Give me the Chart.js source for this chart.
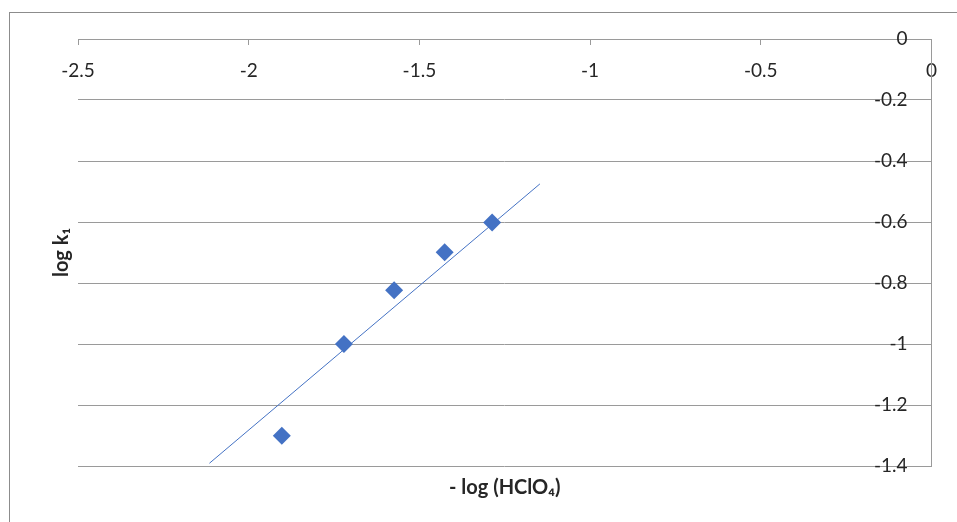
<!DOCTYPE html>
<html>
<head>
<meta charset="utf-8">
<script src="https://cdn.jsdelivr.net/npm/chart.js@4/dist/chart.umd.min.js"></script>
<style>
html, body { margin: 0; padding: 0; background: #fff; }
</style>
</head>
<body>
<canvas id="myChart" width="957" height="522"></canvas>
<script>
var xTitle = '- log (HClO\u2084)';
var yTitle = 'log k\u2081';

// measured points
var logAcid = [-1.903, -1.721, -1.574, -1.426, -1.287];
var logK = [-1.301, -1.0, -0.824, -0.699, -0.602];

// trend line end points as drawn
var trendX = [-2.115, -1.147];
var trendY = [-1.391, -0.475];

var xTicks = [-2.5, -2, -1.5, -1, -0.5, 0];
var yTicks = [0, -0.2, -0.4, -0.6, -0.8, -1, -1.2, -1.4];

var gridColor = '#9a9a9a';
var textColor = '#262626';
var blue = '#4472C4';

var pts = logAcid.map(function (x, i) { return {x: x, y: logK[i]}; });
var trend = trendX.map(function (x, i) { return {x: x, y: trendY[i]}; });

// outer frame of the chart box
var frame = {
    id: 'frame',
    beforeDraw: function (chart) {
        var c = chart.ctx;
        c.save();
        c.strokeStyle = '#8c8c8c';
        c.lineWidth = 1;
        c.strokeRect(9.5, 12.5, 1000, 1000);
        c.restore();
    }
};

var chartArea = document.getElementById('myChart').getContext('2d');

var myChart = new Chart(chartArea, {
    type: 'scatter',
    data: {
        datasets: [{
            label: 'data',
            data: pts,
            pointStyle: 'rectRot',
            pointRadius: 9,
            backgroundColor: blue,
            borderColor: blue,
            borderWidth: 0
        }, {
            label: 'trend',
            data: trend,
            showLine: true,
            pointRadius: 0,
            borderColor: blue,
            borderWidth: 1,
            fill: false
        }]
    },
    options: {
        responsive: false,
        animation: false,
        layout: { padding: { top: 39, right: 23, left: 0, bottom: 0 } },
        plugins: {
            legend: { display: false },
            tooltip: { enabled: false }
        },
        scales: {
            x: {
                type: 'linear',
                position: 'top',
                min: -2.5,
                max: 0,
                afterBuildTicks: function (s) { s.ticks = xTicks.map(function (v) { return {value: v}; }); },
                afterFit: function (s) { s.height = 0; },
                ticks: {
                    mirror: true,
                    padding: 20,
                    color: textColor,
                    font: { family: 'Lato, sans-serif', size: 19 },
                    maxRotation: 0,
                    autoSkip: false,
                    callback: function (v) { return String(v); }
                },
                grid: { drawOnChartArea: false, drawTicks: true, tickLength: -6, color: gridColor },
                border: { display: true, color: gridColor }
            },
            xt: {
                type: 'linear',
                position: 'bottom',
                min: -2.5,
                max: 0,
                afterFit: function (s) { s.height = 56; },
                ticks: { display: false },
                grid: { display: false },
                border: { display: false },
                title: {
                    display: true,
                    text: xTitle,
                    color: textColor,
                    font: { family: 'Lato, sans-serif', size: 20, weight: 'bold' },
                    padding: { top: 0, bottom: 22 }
                }
            },
            y: {
                type: 'linear',
                position: 'right',
                min: -1.4,
                max: 0,
                afterBuildTicks: function (s) { s.ticks = yTicks.map(function (v) { return {value: v}; }); },
                afterFit: function (s) { s.width = 0; },
                ticks: {
                    mirror: true,
                    padding: -24,
                    color: textColor,
                    font: { family: 'Lato, sans-serif', size: 19 },
                    callback: function (v) { return String(v); }
                },
                grid: { drawTicks: false, color: gridColor },
                border: { display: true, color: gridColor }
            },
            yt: {
                type: 'linear',
                position: 'left',
                min: -1.4,
                max: 0,
                afterFit: function (s) { s.width = 78; },
                ticks: { display: false },
                grid: { display: false },
                border: { display: false },
                title: {
                    display: true,
                    text: yTitle,
                    color: textColor,
                    font: { family: 'Lato, sans-serif', size: 20, weight: 'bold' },
                    padding: { top: 50, bottom: 0 }
                }
            }
        }
    },
    plugins: [frame]
});
</script>
</body>
</html>
